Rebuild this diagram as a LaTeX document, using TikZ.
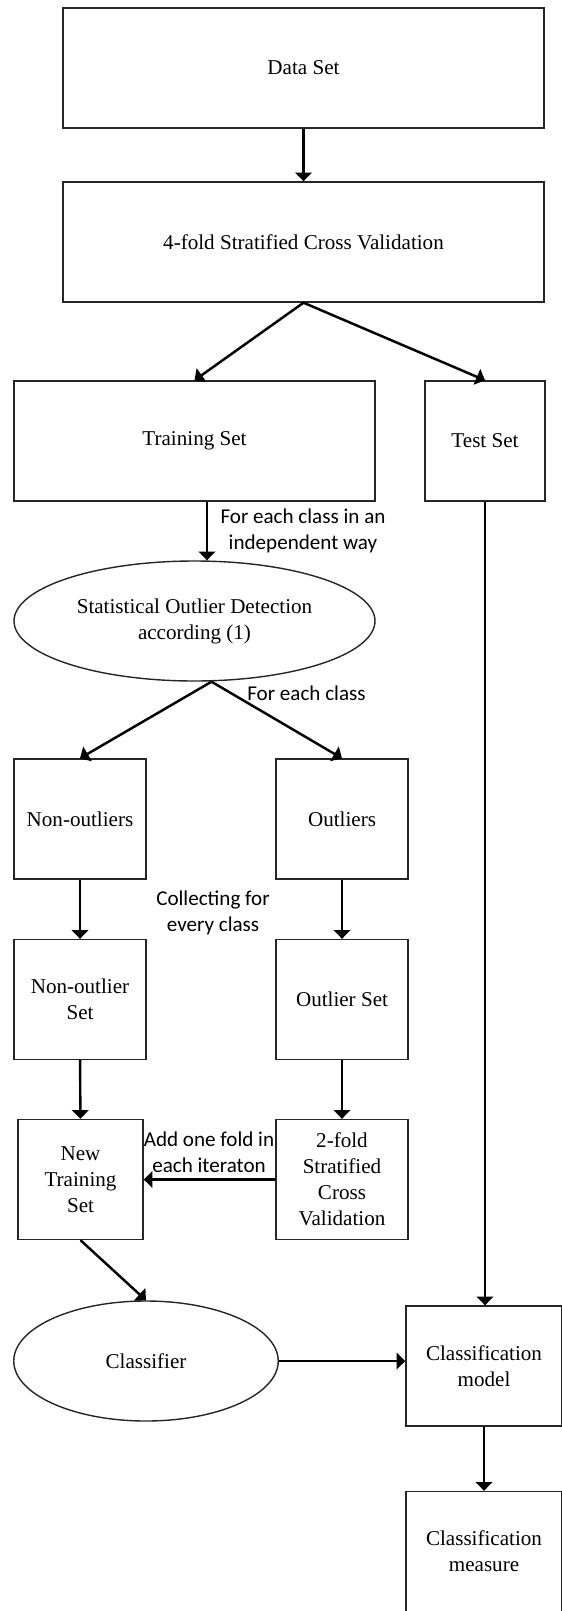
\documentclass[tikz,border=0pt]{standalone}
\usepackage{fontspec}
\setmainfont{Liberation Serif}
\newfontfamily\notefont{Carlito}
\usepackage{tikz}
\usetikzlibrary{arrows.meta,shapes,positioning}
\tikzstyle{box} = [draw=black!85, line width=0.8pt, minimum height=2.4cm, align=center, inner sep=1pt, font=\fontsize{12}{14.8}\selectfont]
\tikzstyle{oval} = [box, ellipse]
\tikzstyle{arrow} = [line width=1.4pt, -{Triangle[width=9.5pt,length=5pt]}]
\tikzstyle{note} = [align=center, inner sep=1pt, font=\notefont\fontsize{12}{14.8}\selectfont]

\begin{document}
\begin{tikzpicture}
\useasboundingbox (0,0) rectangle (11.24,-32.22);
% Top part
\node[box, minimum width=9.62cm] (data) at (6.07,-1.36) {Data Set};
\node[box, minimum width=9.62cm] (cv) at (6.07,-4.84) {4-fold Stratified Cross Validation};
\node[box, minimum width=7.22cm] (train) at (3.89,-8.82) {Training Set};
\node[box, minimum width=2.4cm] (test) at (9.70,-8.82) {Test Set};

% Outlier detection
\node[oval, minimum width=7.22cm] (detect) at (3.89,-12.42) {Statistical Outlier Detection\\according (1)};

% Two branches
\node[box, minimum width=2.64cm] (nonout) at (1.60,-16.38) {Non-outliers};
\node[box, minimum width=2.64cm] (out) at (6.84,-16.38) {Outliers};
\node[box, minimum width=2.64cm] (nonoutset) at (1.60,-19.99) {Non-outlier\\Set};
\node[box, minimum width=2.64cm] (outset) at (6.84,-19.99) {Outlier Set};
\node[box, minimum width=2.5cm] (newtrain) at (1.61,-23.59) {New\\Training\\Set};
\node[box, minimum width=2.64cm] (twofold) at (6.84,-23.59) {2-fold\\Stratified\\Cross\\Validation};

% Bottom part
\node[oval, minimum width=5.29cm] (classifier) at (2.92,-27.22) {Classifier};
\node[box, minimum width=3.12cm] (model) at (9.68,-27.32) {Classification\\model};
\node[box, minimum width=3.12cm] (measure) at (9.68,-31.03) {Classification\\measure};

% Labels
\node[note] (lbsplit) at (6.06,-10.62) {For each class in an\\independent way};
\node[note] (lbclass) at (6.13,-13.86) {For each class};
\node[note] (lbcollect) at (4.26,-18.25) {Collecting for\\every class};
\node[note] (lbfold) at (4.18,-23.05) {Add one fold in\\each iteraton};

% Arrows
\draw[arrow] (data) -- (cv);
\draw[arrow] (cv.south) -- (train.north);
\draw[arrow] (cv.south) -- (test.north);
\draw[arrow] ([xshift=0.25cm]train.south) -- ([xshift=0.25cm]detect.north);
\draw[arrow] ([xshift=0.34cm]detect.south) -- (nonout.north);
\draw[arrow] ([xshift=0.34cm]detect.south) -- (out.north);
\draw[arrow] (nonout) -- (nonoutset);
\draw[arrow] (out) -- (outset);
\draw[arrow] (nonoutset) -- (newtrain);
\draw[arrow] (outset) -- (twofold);
\draw[arrow] (twofold) -- (newtrain);
\draw[arrow] (newtrain.south) -- (classifier.north);
\draw[arrow] (classifier) -- (classifier -| model.west);
\draw[arrow] (test) -- (test |- model.north);
\draw[arrow] (model) -- (measure);
\end{tikzpicture}
\end{document}
